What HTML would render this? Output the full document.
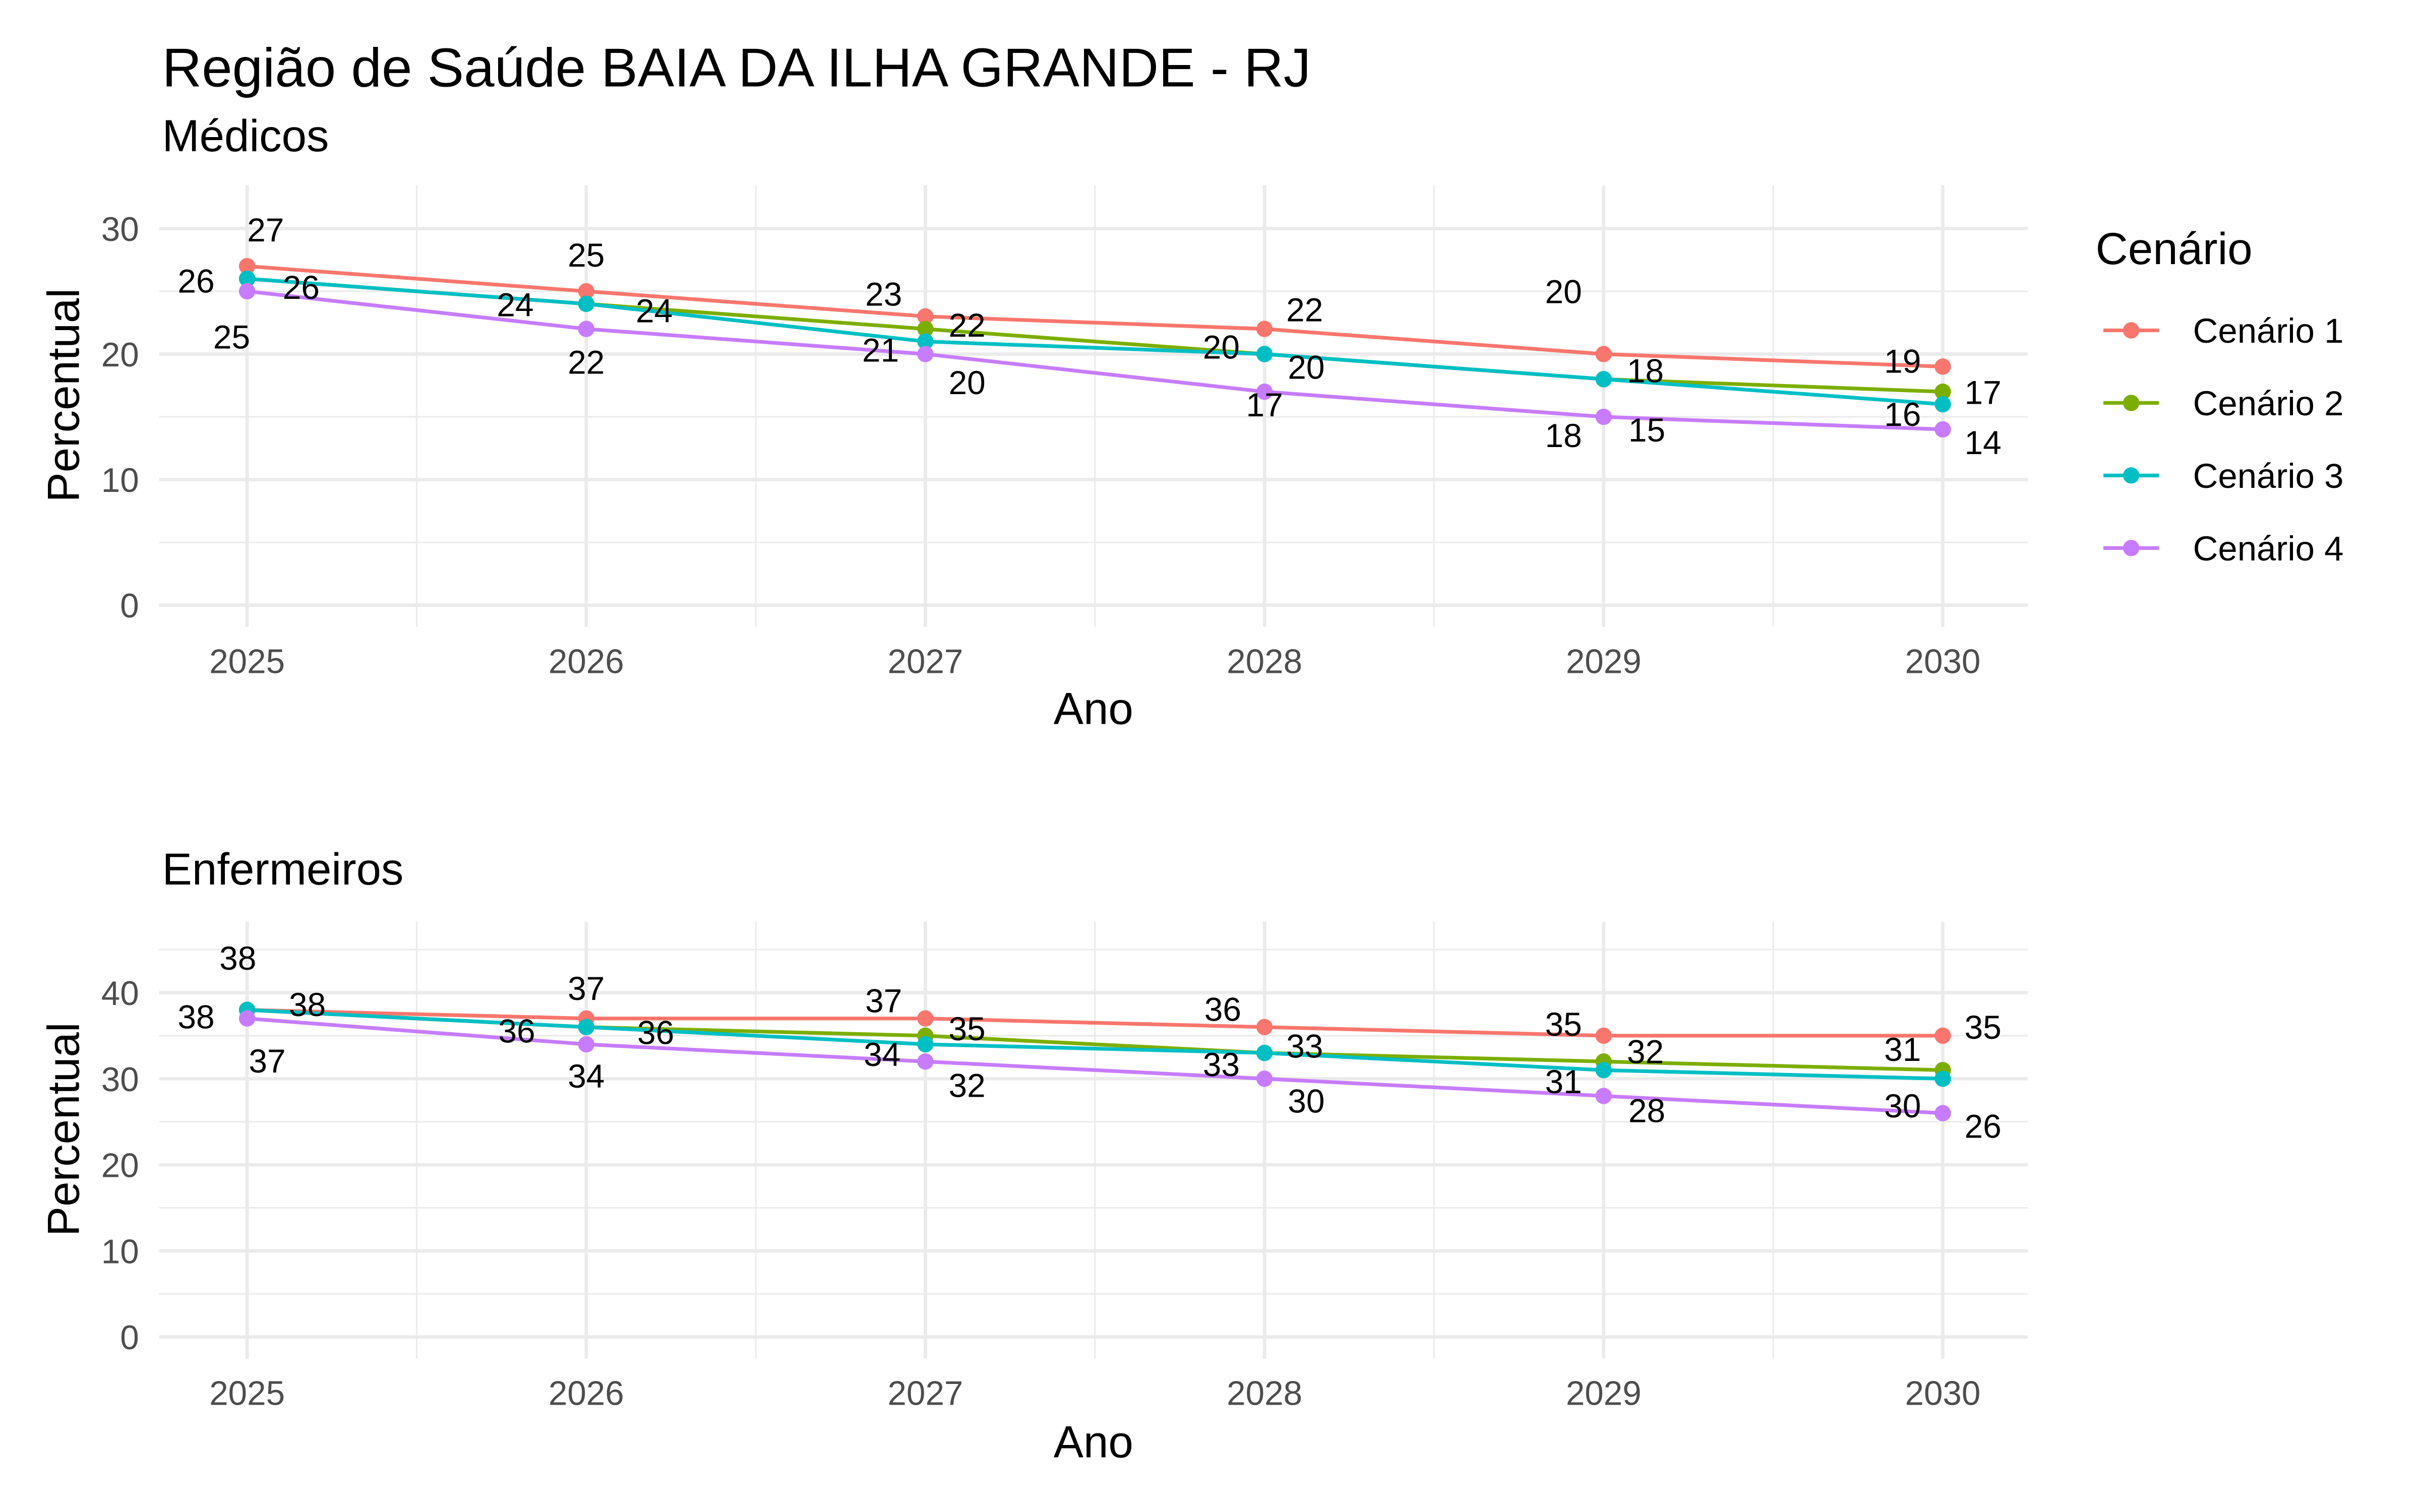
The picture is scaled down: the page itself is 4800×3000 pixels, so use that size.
<!DOCTYPE html>
<html><head><meta charset="utf-8"><style>html,body{margin:0;padding:0;background:#fff}svg{display:block}</style></head>
<body>
<svg id="chart" width="4800" height="3000" viewBox="0 0 1567 979.4" xmlns="http://www.w3.org/2000/svg" font-family="Liberation Sans, Arial, sans-serif">
<rect width="1567" height="980" fill="#fff"/>
<text x="105" y="56" font-size="35.5" fill="#000">Região de Saúde BAIA DA ILHA GRANDE - RJ</text>
<g id="legend">
<text x="1357" y="171" font-size="29" fill="#000">Cenário</text>
</g>
</svg>
<script>
const years = [2025, 2026, 2027, 2028, 2029, 2030];
const seriesNames = ['Cenário 1', 'Cenário 2', 'Cenário 3', 'Cenário 4'];
const medC1 = [27, 25, 23, 22, 20, 19];
const medC2 = [26, 24, 22, 20, 18, 17];
const medC3 = [26, 24, 21, 20, 18, 16];
const medC4 = [25, 22, 20, 17, 15, 14];
const enfC1 = [38, 37, 37, 36, 35, 35];
const enfC2 = [38, 36, 35, 33, 32, 31];
const enfC3 = [38, 36, 34, 33, 31, 30];
const enfC4 = [37, 34, 32, 30, 28, 26];
const medTicks = [0, 10, 20, 30];
const enfTicks = [0, 10, 20, 30, 40];

const colors = ['#F8766D', '#7CAE00', '#00BFC4', '#C77CFF'];
const NS = 'http://www.w3.org/2000/svg';
const svg = document.getElementById('chart');
function mk(tag, attrs, parent) {
  const e = document.createElementNS(NS, tag);
  for (const k in attrs) e.setAttribute(k, attrs[k]);
  (parent || svg).appendChild(e);
  return e;
}
const xScale = y => 160 + (y - 2025) * 219.6;

const medOff = [
  [[12,-24],[0,-24],[-27,-15],[26,-13],[-26,-41],[-26,-4]],
  [[35,5],[44,4],[27,-3],[27,8],[27,-6],[26,0]],
  [[-33,1],[-46,0],[-29,5],[-28,-5],[-26,36],[-26,6]],
  [[-10,29],[0,21],[27,18],[0,8],[28,8],[26,8]]
];
const enfOff = [
  [[-6,-34],[0,-20],[-27,-12],[-27,-12],[-26,-8],[26,-6]],
  [[39,-4],[45,3],[27,-5],[26,-5],[27,-7],[-26,-14]],
  [[-33,4],[-45,2],[-28,6],[-28,7],[-26,7],[-26,17]],
  [[13,27],[0,20],[27,15],[27,14],[28,9],[26,8]]
];

function panel(name, subtitle, subY, top, zeroY, perUnit, ymaxUnit, ticks, data, offs, axisY) {
  const g = mk('g', {});
  
  
  const yS = v => zeroY - v * perUnit;
  const st = mk('text', {x: 105, y: subY, 'font-size': 29, fill: '#000'}, g);
  st.textContent = subtitle;
  
  
  const L = 103, R = 1313, bottom = zeroY + 14;
  for (let v = 5; v < ymaxUnit; v += 10) {
    const l = mk('line', {x1: L, x2: R, y1: yS(v), y2: yS(v), stroke: '#ebebeb', 'stroke-width': 1}, g);
    
    
  }
  for (let i = 0; i < years.length - 1; i++) {
    const x = xScale(years[i] + 0.5);
    const l = mk('line', {x1: x, x2: x, y1: top, y2: bottom, stroke: '#ebebeb', 'stroke-width': 1}, g);
    
    
  }
  ticks.forEach(t => {
    const l = mk('line', {x1: L, x2: R, y1: yS(t), y2: yS(t), stroke: '#ebebeb', 'stroke-width': 2.2}, g);
    
    
    const tx = mk('text', {x: 90, y: yS(t) + 8, 'font-size': 22, fill: '#4d4d4d', 'text-anchor': 'end'}, g);
    tx.textContent = t;
    
    
  });
  years.forEach(yr => {
    const x = xScale(yr);
    const l = mk('line', {x1: x, x2: x, y1: top, y2: bottom, stroke: '#ebebeb', 'stroke-width': 2.2}, g);
    
    
    const tx = mk('text', {x: x, y: zeroY + 44, 'font-size': 22, fill: '#4d4d4d', 'text-anchor': 'middle'}, g);
    tx.textContent = yr;
    
    
  });
  const xt = mk('text', {x: 708, y: axisY, 'font-size': 29, 'text-anchor': 'middle', fill: '#000'}, g);
  xt.textContent = 'Ano';
  
  
  const cy = (top + zeroY) / 2;
  const yt = mk('text', {x: 0, y: 0, 'font-size': 29, 'text-anchor': 'middle', fill: '#000', transform: 'translate(51,' + cy + ') rotate(-90)'}, g);
  yt.textContent = 'Percentual';
  
  
  data.forEach((vals, s) => {
    const pts = vals.map((v, i) => xScale(years[i]) + ',' + yS(v)).join(' ');
    const pl = mk('polyline', {points: pts, fill: 'none', stroke: colors[s], 'stroke-width': 2.4}, g);
    
    
  });
  data.forEach((vals, s) => {
    vals.forEach((v, i) => {
      const c = mk('circle', {cx: xScale(years[i]), cy: yS(v), r: 5.3, fill: colors[s]}, g);
      
      
    });
  });
  data.forEach((vals, s) => {
    vals.forEach((v, i) => {
      const o = offs[s][i];
      const t = mk('text', {x: xScale(years[i]) + o[0], y: yS(v) + o[1] + 8, 'font-size': 21.5, fill: '#000', 'text-anchor': 'middle'}, g);
      t.textContent = v;
      
      
    });
  });
}
panel('medicos', 'Médicos', 98, 120, 392, 8.133, 33, medTicks, [medC1, medC2, medC3, medC4], medOff, 469);
panel('enfermeiros', 'Enfermeiros', 573, 597, 866, 5.575, 48, enfTicks, [enfC1, enfC2, enfC3, enfC4], enfOff, 944);

const lg = document.getElementById('legend');
seriesNames.forEach((n, i) => {
  const y = 214 + i * 47;
  const l = mk('line', {x1: 1362, x2: 1398, y1: y, y2: y, stroke: colors[i], 'stroke-width': 2.4}, lg);
  
  
  const c = mk('circle', {cx: 1380, cy: y, r: 5.3, fill: colors[i]}, lg);
  
  
  const t = mk('text', {x: 1420, y: y + 8, 'font-size': 22.5, fill: '#000'}, lg);
  t.textContent = n;
  
  
});
</script>
</body></html>
